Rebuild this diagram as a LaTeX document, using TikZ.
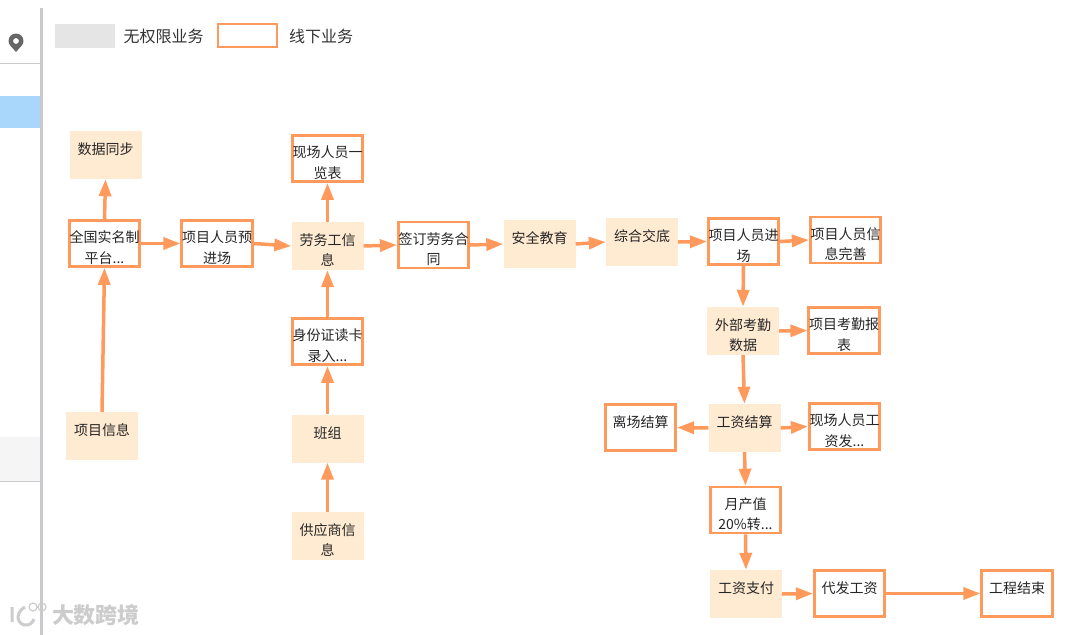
\documentclass[tikz,border=0pt]{standalone}
\usepackage{fontspec}
\setmainfont{Noto Sans CJK SC}
\usetikzlibrary{arrows.meta}
\definecolor{edgeorange}{HTML}{FF9A5C}
\definecolor{peach}{HTML}{FFEBD2}
\definecolor{sidegray}{HTML}{C9C9CE}
\definecolor{sideblue}{HTML}{A9D6FB}
\tikzset{
  databox/.style={fill=peach, minimum width=72pt, minimum height=48pt, inner sep=0pt,
    text width=72pt, align=center, text=black!85, font=\fontsize{14}{20.5}\selectfont,
    execute at begin node=\rule{0pt}{20pt}},
  offlinebox/.style={databox, fill=white, draw=edgeorange, line width=2.7pt,
    minimum width=70.5pt, minimum height=46pt, text width=70.5pt},
  flow/.style={->, edgeorange, line width=3.5pt},
  legendtext/.style={inner sep=0pt, text=black!80, font=\fontsize{16}{18}\selectfont},
}
\begin{document}
\begin{tikzpicture}[x=1pt, y=-1pt, >={Triangle[length=17pt,width=12pt]}]
\useasboundingbox (0,0) rectangle (1080,635);
\fill [sideblue] (0,96) rectangle (41,128);
\fill [black!4] (0,437) rectangle (41,481);
\draw [sidegray, line width=1pt] (0,63)--(41,63);
\draw [sidegray, line width=1pt] (0,481)--(41,481);
\draw [sidegray, line width=2.5pt] (41.5,8)--(41.5,635);
\fill [black!60, even odd rule] (16,52)..controls (12,47) and (8.5,45) .. (8.5,41)
  arc [start angle=180, end angle=360, radius=7.5]
  ..controls (23.5,45) and (20,47) .. (16,52) (19,41) arc [start angle=0, end angle=360, radius=3];

\fill [black!10] (55,24) rectangle (115,48);
\node [legendtext] (nolimit) at (163.5,36) {无权限业务};
\node [draw=edgeorange, line width=2.7pt, minimum width=59pt, minimum height=23pt, inner sep=0pt] (offline) at (247.5,35.5) {};
\node [legendtext] (offlinetext) at (321,36) {线下业务};

\node [databox] (sync) at (105.5,155) {数据同步\\~};
\node [offlinebox] (platform) at (104.5,243.5) {全国实名制\\平台...};
\node [databox] (projinfo) at (102,436) {项目信息\\~};
\node [offlinebox] (preenter) at (217,243.5) {项目人员预\\进场};
\node [offlinebox] (sitelist) at (327.5,158.5) {现场人员一\\览表};
\node [databox] (labor) at (327.5,246) {劳务工信\\息};
\node [offlinebox] (idcard) at (327.5,341.5) {身份证读卡\\录入...};
\node [databox] (team) at (327.5,438.5) {班组\\~};
\node [databox] (supplier) at (327.5,536) {供应商信\\息};
\node [offlinebox] (contract) at (433.5,245) {签订劳务合\\同};
\node [databox] (safety) at (539.5,244) {安全教育\\~};
\node [databox] (briefing) at (642,242) {综合交底\\~};
\node [offlinebox] (enter) at (743.5,241.5) {项目人员进\\场};
\node [offlinebox] (complete) at (845.5,240) {项目人员信\\息完善};
\node [databox] (attend) at (743,331) {外部考勤\\数据};
\node [offlinebox] (report) at (844,330.5) {项目考勤报\\表};
\node [databox] (settle) at (744.5,428) {工资结算\\~};
\node [offlinebox] (leave) at (640.5,427.5) {离场结算\\~};
\node [offlinebox] (wage) at (844.5,426.5) {现场人员工\\资发...};
\node [offlinebox] (output) at (745.5,510) {月产值\\20\%转...};
\node [databox] (pay) at (746,594) {工资支付\\~};
\node [offlinebox] (agent) at (849.5,593.5) {代发工资\\~};
\node [offlinebox] (finish) at (1017,593.5) {工程结束\\~};

\draw [flow] (platform.north)--(sync.south);
\draw [flow] (projinfo.north)--(platform.south);
\draw [flow] (platform.east)--(preenter.west);
\draw [flow] (preenter.east)--(labor.west);
\draw [flow] (labor.north)--(sitelist.south);
\draw [flow] (idcard.north)--(labor.south);
\draw [flow] (team.north)--(idcard.south);
\draw [flow] (supplier.north)--(team.south);
\draw [flow] (labor.east)--(contract.west);
\draw [flow] (contract.east)--(safety.west);
\draw [flow] (safety.east)--(briefing.west);
\draw [flow] (briefing.east)--(enter.west);
\draw [flow] (enter.east)--(complete.west);
\draw [flow] (enter.south)--(attend.north);
\draw [flow] (attend.east)--(report.west);
\draw [flow] (attend.south)--(settle.north);
\draw [flow] (settle.west)--(leave.east);
\draw [flow] (settle.east)--(wage.west);
\draw [flow] (settle.south)--(output.north);
\draw [flow] (output.south)--(pay.north);
\draw [flow] (pay.east)--(agent.west);
\draw [flow] (agent.east)--(finish.west);

\node [inner sep=0pt, text=black!20, font=\fontsize{22}{24}\selectfont\bfseries] (mark) at (96,615) {大数跨境};
\draw [black!20, line width=3pt] (12,607)--(12,622) (25,607)..controls (17,611) and (15,622) .. (24,625)..controls (30,626) and (33,622) .. (34,619);
\draw [black!20, line width=1.2pt] (33,607) circle [radius=4] (42,607) circle [radius=4];
\end{tikzpicture}
\end{document}
